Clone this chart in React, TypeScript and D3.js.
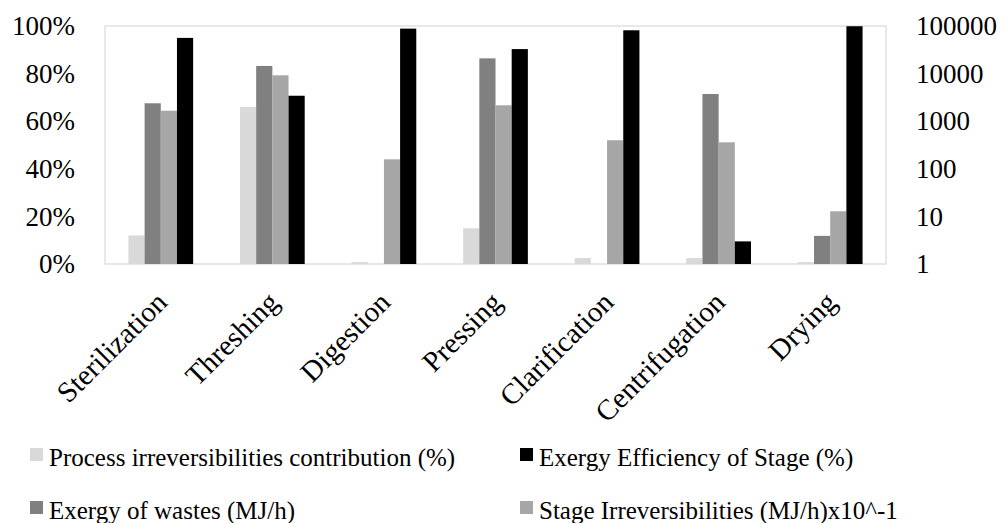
import { useEffect, useRef } from "react";
import * as d3 from "d3";

const categories = [
  "Sterilization",
  "Threshing",
  "Digestion",
  "Pressing",
  "Clarification",
  "Centrifugation",
  "Drying",
];

// left axis (%)
const processIrr = [12, 66, 0.8, 15, 2.5, 2.5, 0.8];
const exergyEff = [95, 70.7, 98.9, 90.3, 98.2, 9.5, 99.9];
// right axis (log)
const exergyWastes = [2380, 14500, 0, 20900, 0, 3730, 3.9];
const stageIrr = [1660, 9200, 158, 2160, 398, 360, 12.8];

const leftTicks = [0, 0.2, 0.4, 0.6, 0.8, 1];
const rightTicks = [1, 10, 100, 1000, 10000, 100000];

const seriesNames = [
  "Process irreversibilities contribution (%)",
  "Exergy of wastes (MJ/h)",
  "Stage Irreversibilities (MJ/h)x10^-1",
  "Exergy Efficiency of Stage (%)",
];
const seriesColors = ["#d9d9d9", "#808080", "#a6a6a6", "#000000"];

const FONT = "Liberation Serif";

export default function App() {
  const ref = useRef<SVGSVGElement | null>(null);

  useEffect(() => {
    const svgEl = ref.current;
    if (!svgEl) return;

    const width = 1003;
    const height = 523;
    const plot = { left: 105, right: 886, top: 26, bottom: 264 };

    const svg = d3.select(svgEl);
    svg.selectAll("*").remove();
    svg.attr("width", width).attr("height", height).style("font-family", FONT);

    // ------- scales -------
    const x0 = d3
      .scaleBand<string>()
      .domain(categories)
      .range([plot.left, plot.right])
      .paddingInner(0.42)
      .paddingOuter(0.21);
    const x1 = d3
      .scaleBand<string>()
      .domain(seriesNames)
      .range([0, x0.bandwidth()]);
    const yL = d3.scaleLinear().domain([0, 1]).range([plot.bottom, plot.top]);
    const yR = d3.scaleLog().domain([1, 100000]).range([plot.bottom, plot.top]);

    // ------- frame -------
    svg
      .append("rect")
      .attr("x", plot.left)
      .attr("y", plot.top)
      .attr("width", plot.right - plot.left)
      .attr("height", plot.bottom - plot.top)
      .attr("fill", "none")
      .attr("stroke", "#d9d9d9")
      .attr("stroke-width", 1.2);

    // ------- bars -------
    type Bar = { cat: string; s: number; y: number };
    const bars: Bar[] = [];
    categories.forEach((c, i) => {
      bars.push({ cat: c, s: 0, y: yL(processIrr[i] / 100) });
      if (exergyWastes[i] > 1) bars.push({ cat: c, s: 1, y: yR(exergyWastes[i]) });
      if (stageIrr[i] > 1) bars.push({ cat: c, s: 2, y: yR(stageIrr[i]) });
      bars.push({ cat: c, s: 3, y: yL(exergyEff[i] / 100) });
    });

    svg
      .append("g")
      .selectAll("rect")
      .data(bars)
      .enter()
      .append("rect")
      .attr("x", (d) => x0(d.cat)! + x1(seriesNames[d.s])!)
      .attr("y", (d) => d.y)
      .attr("width", x1.bandwidth())
      .attr("height", (d) => plot.bottom - d.y)
      .attr("fill", (d) => seriesColors[d.s]);

    // ------- axes -------
    const left = svg
      .append("g")
      .attr("transform", `translate(${plot.left},0)`)
      .call(
        d3
          .axisLeft(yL)
          .tickValues(leftTicks)
          .tickFormat(d3.format(".0%") as any)
          .tickSize(0)
          .tickPadding(30)
      );
    const right = svg
      .append("g")
      .attr("transform", `translate(${plot.right},0)`)
      .call(
        d3
          .axisRight(yR)
          .tickValues(rightTicks)
          .tickFormat((d) => String(d))
          .tickSize(0)
          .tickPadding(30)
      );
    [left, right].forEach((ax) => {
      ax.attr("font-family", null).attr("font-size", null);
      ax.select(".domain").remove();
      ax.selectAll("text")
        .style("font-family", FONT)
        .style("font-size", "27px")
        .attr("fill", "#000");
    });

    // ------- category labels -------
    svg
      .append("g")
      .selectAll("text")
      .data(categories)
      .enter()
      .append("text")
      .attr("transform", (d) => {
        const cx = x0(d)! + x0.bandwidth() / 2 + 1;
        return `translate(${cx},297) rotate(-45)`;
      })
      .attr("text-anchor", "end")
      .attr("dominant-baseline", "central")
      .style("font-family", FONT)
      .style("font-size", "29px")
      .text((d) => d);

    // ------- legend -------
    const legendPos = [
      { s: 0, x: 30, y: 448 },
      { s: 3, x: 520, y: 448 },
      { s: 1, x: 30, y: 501 },
      { s: 2, x: 520, y: 501 },
    ];
    const lg = svg
      .append("g")
      .selectAll("g")
      .data(legendPos)
      .enter()
      .append("g")
      .attr("transform", (d) => `translate(${d.x},${d.y})`);
    lg.append("rect")
      .attr("width", 13)
      .attr("height", 13)
      .attr("fill", (d) => seriesColors[d.s]);
    lg.append("text")
      .attr("x", 19)
      .attr("y", 18)
      .style("font-family", FONT)
      .style("font-size", "25px")
      .text((d) => seriesNames[d.s]);
  }, []);

  return (
    <div style={{ position: "absolute", left: 0, top: 0 }}>
      <svg ref={ref} style={{ display: "block", background: "#fff" }} />
    </div>
  );
}
